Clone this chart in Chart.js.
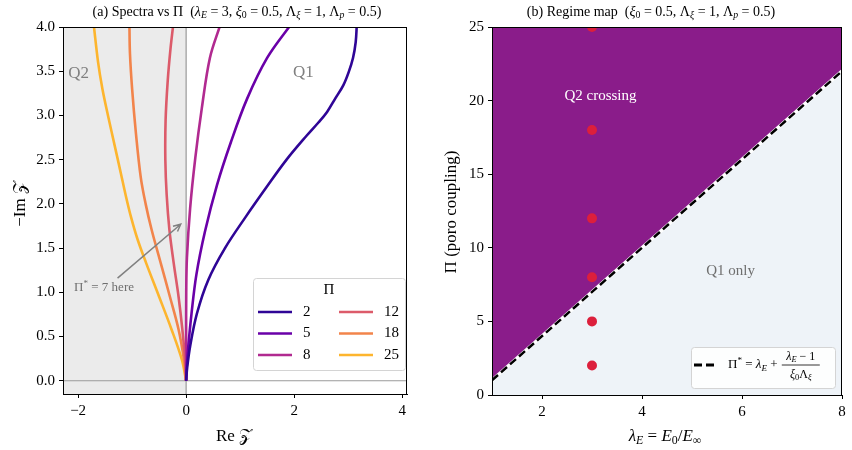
<!DOCTYPE html>
<html>
<head>
<meta charset="utf-8">
<script src="https://cdn.jsdelivr.net/npm/chart.js@4.4.1/dist/chart.umd.min.js"></script>
<style>
  body { margin: 0; background: #fff; width: 852px; height: 450px; position: relative; overflow: hidden; }
  canvas { position: absolute; top: 0; }
  #left { left: 0; }
  #right { left: 426px; }
</style>
</head>
<body>
<canvas id="left" width="426" height="450"></canvas>
<canvas id="right" width="426" height="450"></canvas>
<script>
const SERIF = "'Liberation Serif', 'DejaVu Serif', serif";
Chart.defaults.font.family = SERIF;

// panel (a): one spectral branch per Π, points are [Re Z, -Im Z]
const piValues = [2, 5, 8, 12, 18, 25];
const piColors = ['#2f0596', '#6a00a8', '#b12a90', '#dc5b6a', '#f2844b', '#fdb52e'];
const branchPi2 = [[0, 0], [0.02, 0.15], [0.074, 0.39], [0.2, 0.76], [0.41, 1.14], [0.72, 1.5], [1.1, 1.85], [1.49, 2.19], [1.86, 2.5], [2.23, 2.77], [2.45, 2.92], [2.61, 3.04], [2.76, 3.19], [2.91, 3.34], [3.01, 3.49], [3.09, 3.65], [3.14, 3.83], [3.16, 4.02]];
const branchPi5 = [[0, 0], [0.01, 0.15], [0.04, 0.39], [0.1, 0.76], [0.19, 1.2], [0.35, 1.69], [0.57, 2.21], [0.83, 2.7], [1.13, 3.19], [1.5, 3.65], [1.93, 4.02]];
const branchPi8 = [[0, 0], [0, 0.5], [0.002, 1.0], [0.015, 1.39], [0.074, 1.95], [0.17, 2.52], [0.29, 3.08], [0.44, 3.65], [0.63, 4.02]];
const branchPi12 = [[0, 0], [-0.02, 0.24], [-0.07, 0.58], [-0.14, 0.95], [-0.23, 1.33], [-0.31, 1.71], [-0.36, 2.1], [-0.385, 2.5], [-0.38, 2.95], [-0.34, 3.4], [-0.29, 3.75], [-0.24, 4.02]];
const branchPi18 = [[0, 0], [-0.04, 0.24], [-0.14, 0.58], [-0.3, 0.95], [-0.47, 1.33], [-0.64, 1.71], [-0.75, 2.0], [-0.84, 2.3], [-0.93, 2.8], [-1.0, 3.3], [-1.04, 3.7], [-1.05, 4.02]];
const branchPi25 = [[0, 0], [-0.08, 0.24], [-0.27, 0.58], [-0.5, 0.95], [-0.74, 1.33], [-0.9, 1.6], [-1.02, 1.85], [-1.12, 2.1], [-1.21, 2.35], [-1.32, 2.65], [-1.44, 2.98], [-1.55, 3.3], [-1.63, 3.6], [-1.71, 4.02]];
const branches = [branchPi2, branchPi5, branchPi8, branchPi12, branchPi18, branchPi25];
const reTicks = [-2, 0, 2, 4];
const imTicks = [0, 0.5, 1, 1.5, 2, 2.5, 3, 3.5, 4];

// panel (b): regime boundary Π* and the Π values sampled at λE = 3
const lambdaEdges = [1, 8];
const piStarEdges = [1, 22];
const markLambda = [3, 3, 3, 3, 3, 3];
const markPi = [2, 5, 8, 12, 18, 25];
const lambdaTicks = [2, 4, 6, 8];
const piTicks = [0, 5, 10, 15, 20, 25];

// draws a run of text pieces: [text, style], style '' | 'i' | 'sub' | 'isub' | 'sup'
function rich(ctx, parts, x, y, size, align, color) {
  const items = parts.map(([t, s = '']) => {
    const small = s.includes('sub') || s.includes('sup');
    const fs = small ? size * 0.7 : size;
    const font = (s.includes('i') ? 'italic ' : '') + fs + 'px ' + SERIF;
    ctx.font = font;
    const dy = s.includes('sub') ? size * 0.25 : s.includes('sup') ? -size * 0.3 : 0;
    return { t, font, w: ctx.measureText(t).width, dy };
  });
  const total = items.reduce((a, b) => a + b.w, 0);
  let cx = align === 'center' ? x - total / 2 : align === 'right' ? x - total : x;
  ctx.save();
  ctx.fillStyle = color || '#000';
  ctx.textAlign = 'left';
  ctx.textBaseline = 'middle';
  for (const it of items) {
    ctx.font = it.font;
    ctx.fillText(it.t, cx, y + it.dy);
    cx += it.w;
  }
  ctx.restore();
  return total;
}

function frame(chart) {
  const { ctx, chartArea: a } = chart;
  ctx.save();
  ctx.strokeStyle = '#000';
  ctx.lineWidth = 1;
  ctx.strokeRect(a.left + 0.5, a.top + 0.5, a.right - a.left - 1, a.bottom - a.top);
  ctx.restore();
}

function axisOpts(min, max, tickVals, fmt, fit) {
  return {
    type: 'linear', min, max,
    afterBuildTicks: s => { s.ticks = tickVals.map(v => ({ value: v })); },
    afterFit: fit,
    grid: { drawOnChartArea: false, drawTicks: true, tickLength: 4, color: '#000' },
    border: { color: '#000', width: 1 },
    ticks: { color: '#000', font: { family: SERIF, size: 15 }, padding: 4, maxRotation: 0, autoSkip: false, callback: fmt }
  };
}

const minus = v => (v < 0 ? '\u2212' + Math.abs(v) : String(v));

const leftDeco = {
  id: 'leftDeco',
  beforeDatasetsDraw(chart) {
    const { ctx, chartArea: a, scales: { x, y } } = chart;
    const x0 = x.getPixelForValue(0), y0 = y.getPixelForValue(0);
    ctx.save();
    ctx.fillStyle = '#ebebeb';
    ctx.fillRect(a.left, a.top, x0 - a.left, a.bottom - a.top);
    ctx.strokeStyle = '#9a9a9a';
    ctx.lineWidth = 1.2;
    ctx.beginPath();
    ctx.moveTo(x0, a.top); ctx.lineTo(x0, a.bottom);
    ctx.moveTo(a.left, y0); ctx.lineTo(a.right, y0);
    ctx.stroke();
    ctx.restore();
  },
  afterDatasetsDraw(chart) {
    const { ctx, chartArea: a, scales: { x, y } } = chart;
    // region labels
    rich(ctx, [['Q2']], x.getPixelForValue(-1.99), y.getPixelForValue(3.47), 17, 'center', '#808080');
    rich(ctx, [['Q1']], x.getPixelForValue(2.17), y.getPixelForValue(3.48), 17, 'center', '#808080');
    // annotation arrow
    const tx = x.getPixelForValue(-1.27), ty = y.getPixelForValue(1.16);
    const hx = x.getPixelForValue(-0.1), hy = y.getPixelForValue(1.77);
    const ang = Math.atan2(hy - ty, hx - tx);
    ctx.save();
    ctx.strokeStyle = '#808080';
    ctx.lineWidth = 1.5;
    ctx.beginPath();
    ctx.moveTo(tx, ty); ctx.lineTo(hx, hy);
    ctx.moveTo(hx - 8 * Math.cos(ang - 0.45), hy - 8 * Math.sin(ang - 0.45));
    ctx.lineTo(hx, hy);
    ctx.lineTo(hx - 8 * Math.cos(ang + 0.45), hy - 8 * Math.sin(ang + 0.45));
    ctx.stroke();
    ctx.restore();
    rich(ctx, [['\u03a0'], ['*', 'sup'], [' = 7 here']], x.getPixelForValue(-1.52), y.getPixelForValue(1.05), 13, 'center', '#6f6f6f');

    // legend box
    const bx = a.right - 154, by = a.bottom - 116, bw = 152, bh = 92;
    ctx.save();
    ctx.fillStyle = 'rgba(255,255,255,0.85)';
    ctx.strokeStyle = '#d4d4d4';
    ctx.lineWidth = 1;
    ctx.beginPath();
    ctx.roundRect(bx + 0.5, by + 0.5, bw, bh, 3);
    ctx.fill(); ctx.stroke();
    ctx.restore();
    rich(ctx, [['\u03a0']], bx + bw / 2, by + 12, 15, 'center');
    chart.data.datasets.forEach((ds, i) => {
      const col = Math.floor(i / 3), row = i % 3;
      const lx = bx + 5 + col * 81, ly = by + 34 + row * 21.5;
      ctx.save();
      ctx.strokeStyle = ds.borderColor;
      ctx.lineWidth = 2.6;
      ctx.beginPath(); ctx.moveTo(lx, ly); ctx.lineTo(lx + 34, ly); ctx.stroke();
      ctx.restore();
      rich(ctx, [[ds.label]], lx + 45, ly, 15, 'left');
    });
  },
  afterDraw(chart) {
    const { ctx } = chart;
    frame(chart);
    rich(ctx, [['(a) Spectra vs \u03a0  ('], ['\u03bb', 'i'], ['E', 'isub'], [' = 3, '], ['\u03be', 'i'], ['0', 'sub'], [' = 0.5, \u039b'], ['\u03be', 'isub'], [' = 1, \u039b'], ['p', 'isub'], [' = 0.5)']], 237, 12, 14, 'center');
    rich(ctx, [['Re '], ['\ud835\udcb5']], 234, 437, 17, 'center');
    ctx.save();
    ctx.translate(21, 204);
    ctx.rotate(-Math.PI / 2);
    rich(ctx, [['\u2212Im '], ['\ud835\udcb5']], 0, 0, 17, 'center');
    ctx.restore();
  }
};

new Chart(document.getElementById('left'), {
  type: 'scatter',
  data: {
    datasets: piValues.map((p, i) => ({
      label: String(p),
      data: branches[i].map(([re, im]) => ({ x: re, y: im })),
      showLine: true,
      borderColor: piColors[i],
      borderWidth: 2.6,
      pointRadius: 0,
      tension: 0.35,
      fill: false
    }))
  },
  options: {
    responsive: false, animation: false, devicePixelRatio: 1,
    layout: { padding: { left: 0, right: 19, top: 27, bottom: 0 } },
    plugins: { legend: { display: false }, tooltip: { enabled: false } },
    scales: {
      x: axisOpts(-2.28, 4.09, reTicks, minus, s => { s.height = 56; }),
      y: axisOpts(-0.15, 4.0, imTicks, v => v.toFixed(1), s => { s.width = 63; })
    }
  },
  plugins: [leftDeco]
});

const rightDeco = {
  id: 'rightDeco',
  afterDatasetsDraw(chart) {
    const { ctx, chartArea: a, scales: { x, y } } = chart;
    rich(ctx, [['Q2 crossing']], x.getPixelForValue(3.17), y.getPixelForValue(20.3), 15, 'center', '#ffffff');
    rich(ctx, [['Q1 only']], x.getPixelForValue(5.77), y.getPixelForValue(8.4), 15, 'center', '#6f6f6f');

    // legend box
    const bx = a.right - 151, by = a.bottom - 48, bw = 144, bh = 41;
    ctx.save();
    ctx.fillStyle = 'rgba(255,255,255,0.85)';
    ctx.strokeStyle = '#d4d4d4';
    ctx.lineWidth = 1;
    ctx.beginPath();
    ctx.roundRect(bx + 0.5, by + 0.5, bw, bh, 3);
    ctx.fill(); ctx.stroke();
    ctx.strokeStyle = '#000';
    ctx.lineWidth = 2.8;
    ctx.setLineDash([8, 4]);
    const ly = by + 18;
    ctx.beginPath(); ctx.moveTo(bx + 3, ly); ctx.lineTo(bx + 24, ly); ctx.stroke();
    ctx.restore();
    let cx = bx + 37;
    cx += rich(ctx, [['\u03a0'], ['*', 'sup'], [' = '], ['\u03bb', 'i'], ['E', 'isub'], [' + ']], cx, ly, 13, 'left');
    const num = [['\u03bb', 'i'], ['E', 'isub'], [' \u2212 1']];
    const den = [['\u03be', 'i'], ['0', 'sub'], ['\u039b'], ['\u03be', 'isub']];
    const w = 38;
    const mid = cx + w / 2 + 1;
    rich(ctx, num, mid, ly - 8, 12, 'center');
    rich(ctx, den, mid, ly + 10, 12, 'center');
    ctx.save();
    ctx.strokeStyle = '#000';
    ctx.lineWidth = 0.8;
    ctx.beginPath(); ctx.moveTo(cx + 1, ly); ctx.lineTo(cx + 1 + w, ly); ctx.stroke();
    ctx.restore();
  },
  afterDraw(chart) {
    const { ctx } = chart;
    frame(chart);
    rich(ctx, [['(b) Regime map  ('], ['\u03be', 'i'], ['0', 'sub'], [' = 0.5, \u039b'], ['\u03be', 'isub'], [' = 1, \u039b'], ['p', 'isub'], [' = 0.5)']], 225, 12, 14, 'center');
    rich(ctx, [['\u03bb', 'i'], ['E', 'isub'], [' = '], ['E', 'i'], ['0', 'sub'], ['/'], ['E', 'i'], ['\u221e', 'sub']], 239, 437, 17, 'center');
    ctx.save();
    ctx.translate(26, 212);
    ctx.rotate(-Math.PI / 2);
    rich(ctx, [['\u03a0 (poro coupling)']], 0, 0, 17, 'center');
    ctx.restore();
  }
};

const boundary = lambdaEdges.map((l, i) => ({ x: l, y: piStarEdges[i] }));

new Chart(document.getElementById('right'), {
  type: 'scatter',
  data: {
    datasets: [
      { data: markLambda.map((l, i) => ({ x: l, y: markPi[i] })), pointRadius: 5, backgroundColor: '#dc1f3c', borderWidth: 0, clip: 0, order: 0 },
      { data: boundary, showLine: true, pointRadius: 0, borderColor: '#000', borderWidth: 2.5, borderDash: [8, 4], fill: false, order: 1 },
      { data: boundary, showLine: true, pointRadius: 0, borderColor: '#ffffff', borderWidth: 3.5, fill: false, order: 2 },
      { data: boundary, showLine: true, pointRadius: 0, borderWidth: 0, backgroundColor: '#8a1c8a', fill: 'end', order: 3 },
      { data: boundary, showLine: true, pointRadius: 0, borderWidth: 0, backgroundColor: '#eef3f8', fill: 'start', order: 3 }
    ]
  },
  options: {
    responsive: false, animation: false, devicePixelRatio: 1,
    layout: { padding: { left: 0, right: 10, top: 27, bottom: 0 } },
    plugins: { legend: { display: false }, tooltip: { enabled: false } },
    scales: {
      x: axisOpts(1, 8, lambdaTicks, v => String(v), s => { s.height = 55; }),
      y: axisOpts(0, 25, piTicks, v => String(v), s => { s.width = 66; })
    }
  },
  plugins: [rightDeco]
});
</script>
</body>
</html>
